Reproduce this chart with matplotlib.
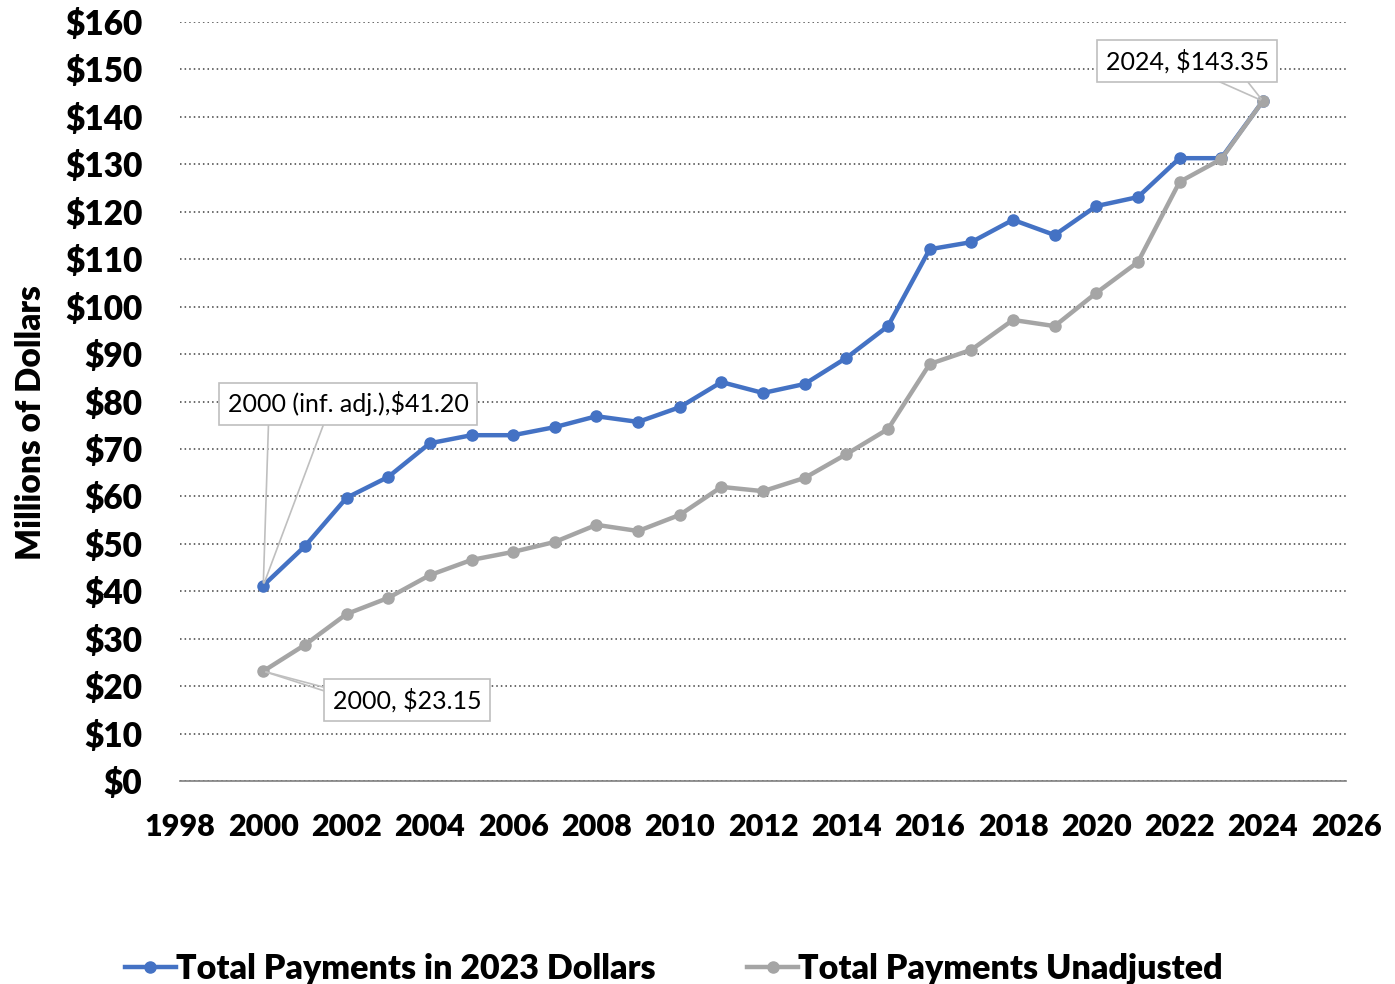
import numpy as np
import matplotlib.pyplot as plt
from matplotlib.ticker import FuncFormatter, MultipleLocator

years = list(range(2000, 2025))
adjusted = [41.20, 49.5, 59.7, 64.1, 71.2, 72.9, 72.9, 74.6, 76.9, 75.7, 78.8,
            84.1, 81.8, 83.7, 89.2, 95.9, 112.1, 113.6, 118.3, 115.1, 121.2,
            123.1, 131.3, 131.3, 143.35]
unadjusted = [23.15, 28.7, 35.2, 38.6, 43.4, 46.6, 48.3, 50.4, 54.0, 52.7, 56.1,
              62.0, 61.1, 63.9, 68.9, 74.2, 87.9, 90.9, 97.2, 95.9, 102.9,
              109.4, 126.3, 131.1, 143.35]

blue = "#4472c4"
grey = "#a5a5a5"

plt.rcParams['font.family'] = ['Lato', 'DejaVu Sans']

fig = plt.figure(figsize=(13.95, 9.84), dpi=100)
ax = fig.add_axes([0.129, 0.2063, 0.836, 0.7713])

ax.plot(years, adjusted, color=blue, lw=3.2, marker='o', ms=8,
        label="Total Payments in 2023 Dollars", zorder=3)
ax.plot(years, unadjusted, color=grey, lw=3.2, marker='o', ms=8,
        label="Total Payments Unadjusted", zorder=3)

ax.set_xlim(1998, 2026)
ax.set_ylim(0, 160)
ax.xaxis.set_major_locator(MultipleLocator(2))
ax.yaxis.set_major_locator(MultipleLocator(10))
ax.yaxis.set_major_formatter(FuncFormatter(lambda v, p: f"${v:.0f}"))
ax.grid(axis='y', color='#404040', ls=(0, (1, 2)), lw=1.1)
ax.set_axisbelow(True)
for s in ['top', 'right', 'left']:
    ax.spines[s].set_visible(False)
ax.spines['bottom'].set_color('#7f7f7f')
ax.spines['bottom'].set_linewidth(1.2)
ax.tick_params(axis='both', length=0)
ax.tick_params(axis='y', pad=27, labelsize=24)
ax.tick_params(axis='x', pad=23, labelsize=22)
for t in ax.get_xticklabels() + ax.get_yticklabels():
    t.set_fontweight('heavy')
ax.set_ylabel("Millions of Dollars", fontsize=24, fontweight='heavy')
ax.yaxis.set_label_coords(-0.114, 0.472)

box = dict(boxstyle='square,pad=0.35', fc='white', ec='#bfbfbf', lw=1.2)


def callout(text, pt, pos, rel1, rel2):
    # box with two thin pointer lines (Excel style callout)
    for i, rel in enumerate((rel1, rel2)):
        ax.annotate(text, xy=pt, xytext=pos, ha='center', va='center', fontsize=18,
                    color='black' if i == 1 else 'none',
                    bbox=box if i == 1 else dict(boxstyle='square,pad=0.35', fc='none', ec='none'),
                    arrowprops=dict(arrowstyle='-', color='#bfbfbf', lw=1.2,
                                    relpos=rel, shrinkA=0, shrinkB=2),
                    zorder=5)


callout(f"2000 (inf. adj.),${adjusted[0]:.2f}", (years[0], adjusted[0]),
        (2002.04, 79.5), (0.17, 0.0), (0.41, 0.0))
callout(f"2000, ${unadjusted[0]:.2f}", (years[0], unadjusted[0]),
        (2003.46, 17.1), (0.0, 0.92), (0.0, 0.75))
callout(f"2024, ${unadjusted[-1]:.2f}", (years[-1], unadjusted[-1]),
        (2022.18, 151.8), (0.58, 0.0), (0.83, 0.0))

leg = fig.legend(loc='lower center', bbox_to_anchor=(0.483, -0.032), ncol=2,
                 frameon=False, prop={'size': 24.5, 'weight': 'heavy'},
                 handlelength=1.5, handletextpad=0.0, columnspacing=2.7)

fig.savefig("out.png", dpi=100)
